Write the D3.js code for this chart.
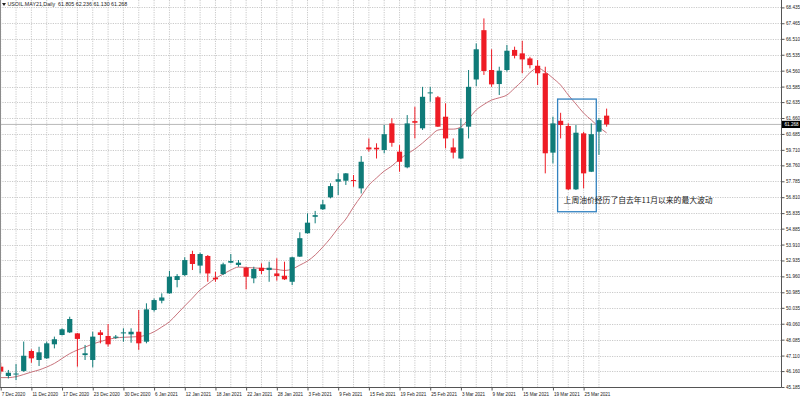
<!DOCTYPE html>
<html><head><meta charset="utf-8">
<script src="https://cdn.jsdelivr.net/npm/d3@7"></script>
<style>html,body{margin:0;padding:0;background:#fff;overflow:hidden}</style>
</head><body>
<svg id="chart" width="800" height="399"></svg>
<script>
// ---------------- data ----------------
const symbolTitle = "USOIL.MAY21,Daily  61.805 62.236 61.130 61.268";
const dates = [
"7 Dec 2020","8 Dec 2020","9 Dec 2020","10 Dec 2020","11 Dec 2020","14 Dec 2020","15 Dec 2020","16 Dec 2020","17 Dec 2020","18 Dec 2020",
"21 Dec 2020","22 Dec 2020","23 Dec 2020","24 Dec 2020","28 Dec 2020","29 Dec 2020","30 Dec 2020","31 Dec 2020",
"4 Jan 2021","5 Jan 2021","6 Jan 2021","7 Jan 2021","8 Jan 2021","11 Jan 2021","12 Jan 2021","13 Jan 2021","14 Jan 2021","15 Jan 2021",
"18 Jan 2021","19 Jan 2021","20 Jan 2021","21 Jan 2021","22 Jan 2021","25 Jan 2021","26 Jan 2021","27 Jan 2021","28 Jan 2021","29 Jan 2021",
"1 Feb 2021","2 Feb 2021","3 Feb 2021","4 Feb 2021","5 Feb 2021","8 Feb 2021","9 Feb 2021","10 Feb 2021","11 Feb 2021","12 Feb 2021",
"15 Feb 2021","16 Feb 2021","17 Feb 2021","18 Feb 2021","19 Feb 2021","22 Feb 2021","23 Feb 2021","24 Feb 2021","25 Feb 2021","26 Feb 2021",
"1 Mar 2021","2 Mar 2021","3 Mar 2021","4 Mar 2021","5 Mar 2021","8 Mar 2021","9 Mar 2021","10 Mar 2021","11 Mar 2021","12 Mar 2021",
"15 Mar 2021","16 Mar 2021","17 Mar 2021","18 Mar 2021","19 Mar 2021","22 Mar 2021","23 Mar 2021","24 Mar 2021","25 Mar 2021","26 Mar 2021",
"29 Mar 2021","30 Mar 2021"
];
const opens = [
46.43,45.86,45.96,46.17,47.39,46.84,46.94,47.80,48.37,48.53,
48.47,47.14,46.84,48.53,48.31,48.20,48.47,48.41,48.57,47.96,
49.90,50.47,50.92,51.74,52.04,53.33,52.62,53.21,51.88,52.10,
52.80,52.66,52.49,51.84,52.49,52.35,52.14,52.00,51.63,53.17,
54.60,55.61,56.07,56.80,57.76,57.82,57.86,57.35,59.86,59.84,
59.70,61.33,59.60,58.64,61.47,61.03,63.17,62.93,61.74,59.86,
59.18,61.13,64.02,67.04,64.60,63.74,64.60,65.83,65.62,65.31,
64.86,64.40,59.54,61.49,61.17,57.29,60.72,58.37,60.82,61.805
];
const highs = [
46.66,46.23,46.59,47.97,47.49,47.65,47.96,48.27,48.78,49.49,
48.49,47.76,48.57,48.67,49.04,48.37,48.78,48.78,49.90,50.31,
50.61,50.92,52.30,52.10,53.13,53.53,53.41,53.27,52.24,52.80,
53.33,52.96,52.55,52.55,52.76,52.86,53.07,52.86,53.17,54.66,
55.82,55.97,56.64,57.66,58.27,58.29,58.17,59.33,60.41,60.11,
61.23,61.64,60.00,61.84,62.35,63.57,63.57,63.01,62.56,60.41,
61.64,64.60,66.23,67.76,65.87,64.80,66.13,66.03,66.39,65.41,
65.21,64.80,61.74,61.98,61.33,61.23,60.82,61.33,61.66,62.236
];
const lows = [
45.98,45.71,45.61,46.11,46.67,46.47,46.91,47.55,48.34,48.49,
46.43,46.84,46.39,47.86,47.66,48.13,47.96,47.90,47.46,47.86,
49.80,50.31,50.90,51.29,51.98,52.35,52.14,51.63,51.63,52.04,
52.76,52.55,51.17,51.54,52.10,51.63,51.70,51.74,51.43,53.15,
54.58,55.21,56.03,56.74,56.94,57.56,57.45,57.04,59.60,59.18,
59.50,59.90,58.37,58.58,60.41,60.93,62.66,61.11,59.80,59.18,
59.16,60.41,63.61,64.30,63.57,63.07,64.50,65.31,64.40,64.70,
63.68,58.27,58.88,60.41,57.25,57.25,57.35,58.35,59.40,61.130
];
const closes = [
46.13,46.06,46.01,47.10,46.94,47.31,47.86,48.11,48.72,49.35,
48.13,47.25,48.27,48.37,47.80,48.27,48.53,48.57,47.86,49.94,
50.51,50.67,51.94,51.98,52.96,52.72,53.33,52.14,51.78,52.70,
52.90,52.80,51.94,52.41,52.29,52.49,51.98,51.78,53.13,54.30,
55.25,55.71,56.37,57.49,57.91,58.27,57.80,58.98,59.74,59.74,
60.67,60.14,58.98,61.33,61.37,62.96,63.23,61.13,60.41,59.54,
61.03,63.57,65.87,64.54,63.72,64.56,65.78,65.47,65.25,64.90,
64.40,59.50,61.33,61.23,57.29,60.76,58.27,60.67,61.53,61.268
];
const maValues = [
45.76,45.76,45.82,45.95,46.10,46.23,46.41,46.63,46.93,47.23,
47.45,47.63,47.82,47.97,48.10,48.19,48.23,48.25,48.27,48.37,
48.57,48.86,49.18,49.66,50.15,50.63,51.13,51.49,51.84,52.10,
52.35,52.53,52.51,52.48,52.45,52.42,52.39,52.32,52.41,52.65,
52.90,53.27,53.76,54.30,54.92,55.47,56.21,56.88,57.55,57.99,
58.41,58.72,59.14,59.46,59.76,60.13,60.54,60.92,60.98,60.98,
61.11,61.60,62.15,62.49,62.76,62.90,63.07,63.49,63.93,64.44,
64.72,64.48,64.10,63.68,63.07,62.52,61.96,61.54,61.11,60.75
];
const yTickLabels = ["68.435","67.465","66.510","65.535","64.560","63.585","62.635","61.660","60.685","59.710","58.760","57.785","56.810","55.835","54.885","53.910","52.935","51.960","50.985","50.035","49.060","48.085","47.110","46.160","45.185"];
const xTickLabels = ["7 Dec 2020","11 Dec 2020","17 Dec 2020","23 Dec 2020","30 Dec 2020","6 Jan 2021","12 Jan 2021","18 Jan 2021","22 Jan 2021","28 Jan 2021","3 Feb 2021","9 Feb 2021","15 Feb 2021","19 Feb 2021","25 Feb 2021","3 Mar 2021","9 Mar 2021","15 Mar 2021","19 Mar 2021","25 Mar 2021"];
const currentPrice = 61.268;
const annotation = {text:"上周油价经历了自去年11月以来的最大波动", fromDate:"22 Mar 2021", toDate:"26 Mar 2021", top:62.82, bottom:55.92, textValue:56.45};

// ---------------- drawing ----------------
const svg = d3.select("#chart");
const plotRight = 781, plotBottom = 387;
const bullColor = "#0f7b78", bearColor = "#ee1c25";
const x = d3.scalePoint().domain(dates).range([0.7, 0.7 + 7.67 * (dates.length - 1)]);
const y = d3.scaleLinear().domain([45.185, 68.435]).range([plotBottom, 7.4]);
const yTickValues = yTickLabels.map(Number);

svg.append("rect").attr("width",800).attr("height",399).attr("fill","#fff");

// grid
const grid = svg.append("g");
grid.selectAll("line.h").data(yTickValues).join("line")
  .attr("x1",0).attr("x2",plotRight).attr("y1",d=>Math.round(y(d))+0.5).attr("y2",d=>Math.round(y(d))+0.5)
  .attr("stroke","#bdbdbd").attr("stroke-width",0.8).attr("stroke-dasharray","1.2,1.2");
grid.selectAll("line.v").data(dates.filter((d,i)=>i%2===0)).join("line")
  .attr("x1",d=>x(d)).attr("x2",d=>x(d)).attr("y1",0).attr("y2",plotBottom)
  .attr("stroke","#bdbdbd").attr("stroke-width",0.8).attr("stroke-dasharray","1.2,1.2");

// current price line
svg.append("line").attr("x1",0).attr("x2",plotRight)
  .attr("y1",y(currentPrice)).attr("y2",y(currentPrice))
  .attr("stroke","#b8b8b8").attr("stroke-width",1);

// moving average
svg.append("path").datum(maValues)
  .attr("d", d3.line().x((d,i)=>x(dates[i])).y(d=>y(d)).curve(d3.curveMonotoneX))
  .attr("fill","none").attr("stroke","#c8737c").attr("stroke-width",1);

// candles
const bars = dates.map((d,i)=>({d,o:opens[i],h:highs[i],l:lows[i],c:closes[i]}));
const cg = svg.append("g");
cg.selectAll("line").data(bars).join("line")
  .attr("x1",b=>x(b.d)).attr("x2",b=>x(b.d)).attr("y1",b=>y(b.h)).attr("y2",b=>y(b.l))
  .attr("stroke",b=>b.c>=b.o?bullColor:bearColor).attr("stroke-width",1);
cg.selectAll("rect").data(bars).join("rect")
  .attr("x",b=>x(b.d)-2.6).attr("width",5.2)
  .attr("y",b=>y(Math.max(b.o,b.c))).attr("height",b=>Math.max(1,Math.abs(y(b.o)-y(b.c))))
  .attr("fill",b=>b.c>=b.o?bullColor:bearColor);

// frame
svg.append("line").attr("x1",0.5).attr("x2",0.5).attr("y1",0).attr("y2",plotBottom).attr("stroke","#8c8c8c").attr("stroke-width",1);
svg.append("line").attr("x1",plotRight+0.5).attr("x2",plotRight+0.5).attr("y1",0).attr("y2",plotBottom+0.5).attr("stroke","#555").attr("stroke-width",1);
svg.append("line").attr("x1",0).attr("x2",plotRight+0.5).attr("y1",plotBottom+0.5).attr("y2",plotBottom+0.5).attr("stroke","#555").attr("stroke-width",1);

// y axis
const yAxis = d3.axisRight(y).tickValues(yTickValues).tickFormat((d,i)=>yTickLabels[i]).tickSize(3).tickPadding(1.5);
const yg = svg.append("g").attr("transform",`translate(${plotRight+0.5},0)`).call(yAxis);
yg.select(".domain").remove();
yg.selectAll(".tick line").attr("stroke","#555");
yg.selectAll("text").attr("font-family","Liberation Sans, Arial, sans-serif").attr("font-size",4.6).attr("fill","#222");

// x axis
const xAxis = d3.axisBottom(x).tickValues(xTickLabels).tickSize(3).tickPadding(2);
const xg = svg.append("g").attr("transform",`translate(0,${plotBottom+0.5})`).call(xAxis);
xg.select(".domain").remove();
xg.selectAll(".tick line").attr("stroke","#555");
xg.selectAll("text").attr("text-anchor","start").attr("dx",0.5)
  .attr("font-family","Liberation Sans, Arial, sans-serif").attr("font-size",4.6).attr("fill","#222");

// current price tag
const tagY = y(currentPrice);
svg.append("rect").attr("x",plotRight+1).attr("y",tagY-3.6).attr("width",19).attr("height",7.2).attr("fill","#000");
svg.append("text").attr("x",plotRight+3.5).attr("y",tagY+1.7).text(currentPrice.toFixed(3))
  .attr("font-family","Liberation Sans, Arial, sans-serif").attr("font-size",4.6).attr("fill","#fff");

// title
svg.append("path").attr("d","M2,3 L6,3 L4,6 Z").attr("fill","#222");
svg.append("text").attr("x",7.5).attr("y",6.4).text(symbolTitle)
  .attr("font-family","Liberation Sans, Arial, sans-serif").attr("font-size",5.3).attr("fill","#222")
  .attr("xml:space","preserve").style("white-space","pre");

// annotation
const bx0 = x(annotation.fromDate) - 3, bx1 = x(annotation.toDate) + 5;
svg.append("rect").attr("x",bx0).attr("y",y(annotation.top)).attr("width",bx1-bx0)
  .attr("height",y(annotation.bottom)-y(annotation.top))
  .attr("fill","none").attr("stroke","#3282c0").attr("stroke-width",1.3);
svg.append("text").attr("x",bx0+6).attr("y",y(annotation.textValue)).text(annotation.text)
  .attr("font-family","Noto Sans CJK SC, sans-serif").attr("font-size",7.8).attr("fill","#222");
</script>
</body></html>
